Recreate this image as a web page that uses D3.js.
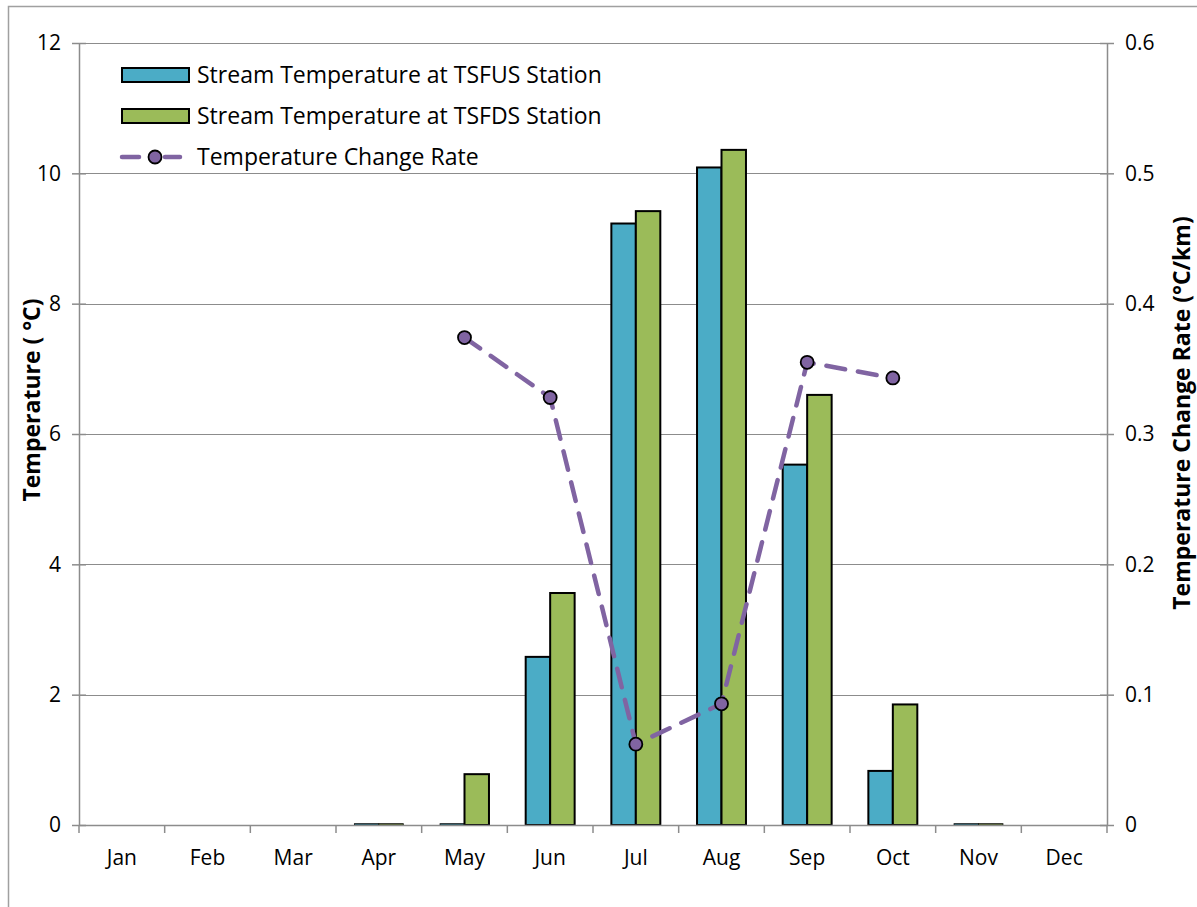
<!DOCTYPE html>
<html>
<head>
<meta charset="utf-8">
<script src="https://cdn.jsdelivr.net/npm/d3@7"></script>
<style>
  html, body { margin: 0; padding: 0; background: #fff; }
  svg { display: block; font-family: "Open Sans", "Noto Sans", sans-serif; }
</style>
</head>
<body>
<svg id="chart" width="1197" height="907"></svg>
<script>
// Monthly stream temperatures at the two stations and the change rate between them
const months = ["Jan", "Feb", "Mar", "Apr", "May", "Jun", "Jul", "Aug", "Sep", "Oct", "Nov", "Dec"];
const tsfus = [null, null, null, 0.02, 0.02, 2.58, 9.23, 10.09, 5.53, 0.83, 0.02, null];
const tsfds = [null, null, null, 0.02, 0.78, 3.56, 9.42, 10.36, 6.60, 1.85, 0.02, null];
const changeRate = [null, null, null, null, 0.374, 0.328, 0.062, 0.093, 0.355, 0.343, null, null];
const leftTicks = [0, 2, 4, 6, 8, 10, 12];
const rightTicks = [0, 0.1, 0.2, 0.3, 0.4, 0.5, 0.6];
const seriesNames = ["Stream Temperature at TSFUS Station", "Stream Temperature at TSFDS Station", "Temperature Change Rate"];

const colors = { us: "#4BACC6", ds: "#9BBB59", rate: "#8064A2", grid: "#8c8c8c", axis: "#8c8c8c" };

const svg = d3.select("#chart");
const plot = { left: 79, right: 1107, top: 43, bottom: 825 };

// outer chart frame
svg.append("rect")
  .attr("x", 8.5).attr("y", 6.5).attr("width", 1200).attr("height", 920)
  .attr("fill", "none").attr("stroke", "#a0a0a0").attr("stroke-width", 1.5);

const x = d3.scaleBand().domain(months).range([plot.left, plot.right]).paddingInner(0).paddingOuter(0);
const yL = d3.scaleLinear().domain([0, 12]).range([plot.bottom, plot.top]);
const yR = d3.scaleLinear().domain([0, 0.6]).range([plot.bottom, plot.top]);

// bar group: two bars per month with 150% gap width
const groupPad = 1.5 / 3.5;
const x1 = d3.scaleBand().domain(["us", "ds"]).range([0, x.bandwidth() * (1 - groupPad)]);
const groupOffset = x.bandwidth() * groupPad / 2;

// horizontal gridlines
svg.append("g").selectAll("line")
  .data(leftTicks.filter(t => t > 0))
  .join("line")
  .attr("x1", plot.left).attr("x2", plot.right)
  .attr("y1", d => Math.round(yL(d)) + 0.5).attr("y2", d => Math.round(yL(d)) + 0.5)
  .attr("stroke", colors.grid).attr("stroke-width", 1.2);

// left axis
const leftAxis = d3.axisLeft(yL).tickValues(leftTicks).tickSize(0).tickPadding(18).tickFormat(d3.format("d"));
const gL = svg.append("g").attr("transform", `translate(${plot.left},0)`).call(leftAxis);
gL.select(".domain").attr("stroke", colors.axis).attr("stroke-width", 1.5);
gL.selectAll(".tick text").attr("font-size", 21).attr("fill", "#000").attr("font-family", "Open Sans");
gL.selectAll(".tick").append("line").attr("x1", -7).attr("x2", 7).attr("stroke", colors.axis).attr("stroke-width", 1.5);

// right axis
const rightAxis = d3.axisRight(yR).tickValues(rightTicks).tickSize(0).tickPadding(18)
  .tickFormat(d => d === 0 ? "0" : d3.format(".1f")(d));
const gR = svg.append("g").attr("transform", `translate(${plot.right},0)`).call(rightAxis);
gR.select(".domain").attr("stroke", colors.axis).attr("stroke-width", 1.5);
gR.selectAll(".tick text").attr("font-size", 21).attr("fill", "#000").attr("font-family", "Open Sans");
gR.selectAll(".tick").append("line").attr("x1", -7).attr("x2", 7).attr("stroke", colors.axis).attr("stroke-width", 1.5);

// bars
const barData = months.map((m, i) => [
  { m, key: "us", v: tsfus[i] },
  { m, key: "ds", v: tsfds[i] }
]).flat().filter(d => d.v !== null);

svg.append("g").selectAll("rect")
  .data(barData)
  .join("rect")
  .attr("x", d => x(d.m) + groupOffset + x1(d.key))
  .attr("width", x1.bandwidth())
  .attr("y", d => yL(d.v))
  .attr("height", d => yL(0) - yL(d.v))
  .attr("fill", d => d.key === "us" ? colors.us : colors.ds)
  .attr("stroke", "#000").attr("stroke-width", d => d.v < 0.1 ? 0.8 : 2);

// bottom axis
const bottomAxis = d3.axisBottom(x).tickSize(0).tickPadding(25);
const gB = svg.append("g").attr("transform", `translate(0,${plot.bottom})`).call(bottomAxis);
gB.select(".domain").attr("stroke", colors.axis).attr("stroke-width", 1.5);
gB.selectAll(".tick text").attr("font-size", 21).attr("fill", "#000").attr("font-family", "Open Sans");
gB.append("g").selectAll("line")
  .data(months.concat(["end"]))
  .join("line")
  .attr("x1", (d, i) => i < 12 ? x(d) : plot.right)
  .attr("x2", (d, i) => i < 12 ? x(d) : plot.right)
  .attr("y1", 0).attr("y2", 8)
  .attr("stroke", colors.axis).attr("stroke-width", 1.5);

// change rate line
const ratePoints = months.map((m, i) => ({ m, v: changeRate[i] })).filter(d => d.v !== null);
const line = d3.line().x(d => x(d.m) + x.bandwidth() / 2).y(d => yR(d.v));
svg.append("path")
  .datum(ratePoints)
  .attr("d", line)
  .attr("fill", "none").attr("stroke", colors.rate).attr("stroke-width", 4.5)
  .attr("stroke-dasharray", "19 13").attr("stroke-linecap", "round");
svg.append("g").selectAll("circle")
  .data(ratePoints)
  .join("circle")
  .attr("cx", d => x(d.m) + x.bandwidth() / 2)
  .attr("cy", d => yR(d.v))
  .attr("r", 6.5)
  .attr("fill", colors.rate).attr("stroke", "#000").attr("stroke-width", 1.8);

// axis titles
svg.append("text")
  .attr("transform", "translate(40,400) rotate(-90)")
  .attr("text-anchor", "middle").attr("font-size", 23).attr("font-weight", "bold")
  .text("Temperature ( °C)");
svg.append("text")
  .attr("transform", "translate(1190,413) rotate(-90)")
  .attr("text-anchor", "middle").attr("font-size", 23).attr("font-weight", "bold")
  .text("Temperature Change Rate (°C/km)");

// legend
const legend = svg.append("g");
const legendRows = [
  { name: seriesNames[0], type: "bar", color: colors.us, y: 75 },
  { name: seriesNames[1], type: "bar", color: colors.ds, y: 116 },
  { name: seriesNames[2], type: "line", color: colors.rate, y: 157 }
];
legendRows.forEach(r => {
  if (r.type === "bar") {
    legend.append("rect").attr("x", 122).attr("y", r.y - 7).attr("width", 67).attr("height", 14)
      .attr("fill", r.color).attr("stroke", "#000").attr("stroke-width", 2);
  } else {
    legend.append("line").attr("x1", 122).attr("x2", 139).attr("y1", r.y).attr("y2", r.y)
      .attr("stroke", r.color).attr("stroke-width", 4.5).attr("stroke-linecap", "round");
    legend.append("line").attr("x1", 165).attr("x2", 180).attr("y1", r.y).attr("y2", r.y)
      .attr("stroke", r.color).attr("stroke-width", 4.5).attr("stroke-linecap", "round");
    legend.append("circle").attr("cx", 155).attr("cy", r.y).attr("r", 6.5)
      .attr("fill", r.color).attr("stroke", "#000").attr("stroke-width", 1.8);
  }
  legend.append("text").attr("x", 197).attr("y", r.y).attr("dy", "0.35em")
    .attr("font-size", 23).text(r.name);
});
</script>
</body>
</html>
